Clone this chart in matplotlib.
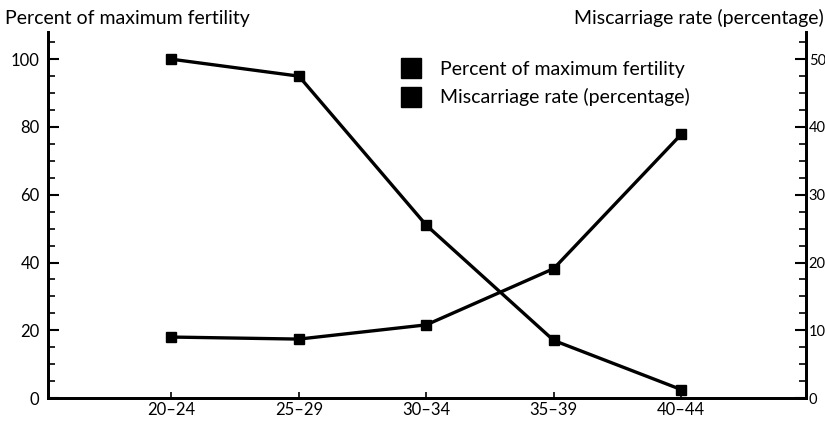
import numpy as np
import matplotlib
matplotlib.use("Agg")
import matplotlib.pyplot as plt
from matplotlib.lines import Line2D
from matplotlib.ticker import MultipleLocator

grupos_edad = ['20–24', '25–29', '30–34', '35–39', '40–44']
fertilidad = [100, 95, 51, 17, 2.5]          # eje izquierdo
aborto = [9.0, 8.7, 10.8, 19.1, 38.9]        # eje derecho

plt.rcParams['font.family'] = ['Lato', 'DejaVu Sans']

fig = plt.figure(figsize=(8.25, 4.28), dpi=100)
ax = fig.add_axes([0.058, 0.070, 0.919, 0.855])
ax2 = ax.twinx()

x = np.arange(len(grupos_edad))
ax.plot(x, fertilidad, color='black', lw=2.4, marker='s', ms=7, zorder=3)
ax2.plot(x, aborto, color='black', lw=2.4, marker='s', ms=7, zorder=3)

ax.set_xlim(-0.97, 4.98)
ax.set_ylim(0, 108)
ax2.set_ylim(0, 54)

ax.set_xticks(x)
ax.set_xticklabels(grupos_edad, fontsize=12)
ax.set_yticks([0, 20, 40, 60, 80, 100])
ax.yaxis.set_minor_locator(MultipleLocator(5))
ax2.set_yticks([0, 10, 20, 30, 40, 50])
ax2.yaxis.set_minor_locator(MultipleLocator(2.5))

ax.tick_params(axis='y', direction='in', length=8, width=1.5, labelsize=12, pad=6)
ax.tick_params(axis='y', which='minor', direction='in', length=5, width=1.2)
ax.tick_params(axis='x', direction='in', length=4, width=1.2, pad=3)
ax2.tick_params(axis='y', direction='in', length=8, width=1.5, labelsize=10.5, pad=2)
ax2.tick_params(axis='y', which='minor', direction='in', length=5, width=1.2)

for a in (ax, ax2):
    a.spines['top'].set_visible(False)
    for s in ('left', 'right', 'bottom'):
        a.spines[s].set_linewidth(2)

fig.text(0.006, 0.957, 'Percent of maximum fertility', fontsize=14, va='center')
fig.text(0.998, 0.957, 'Miscarriage rate (percentage)', fontsize=14, va='center', ha='right')

manijas = [Line2D([], [], color='black', marker='s', ms=15, ls='none'),
           Line2D([], [], color='black', marker='s', ms=15, ls='none')]
ax.legend(manijas, ['Percent of maximum fertility', 'Miscarriage rate (percentage)'],
          loc='upper left', bbox_to_anchor=(0.43, 0.97), frameon=False,
          fontsize=14, handletextpad=0.5, labelspacing=0.55)

fig.savefig('out.png', dpi=100)
